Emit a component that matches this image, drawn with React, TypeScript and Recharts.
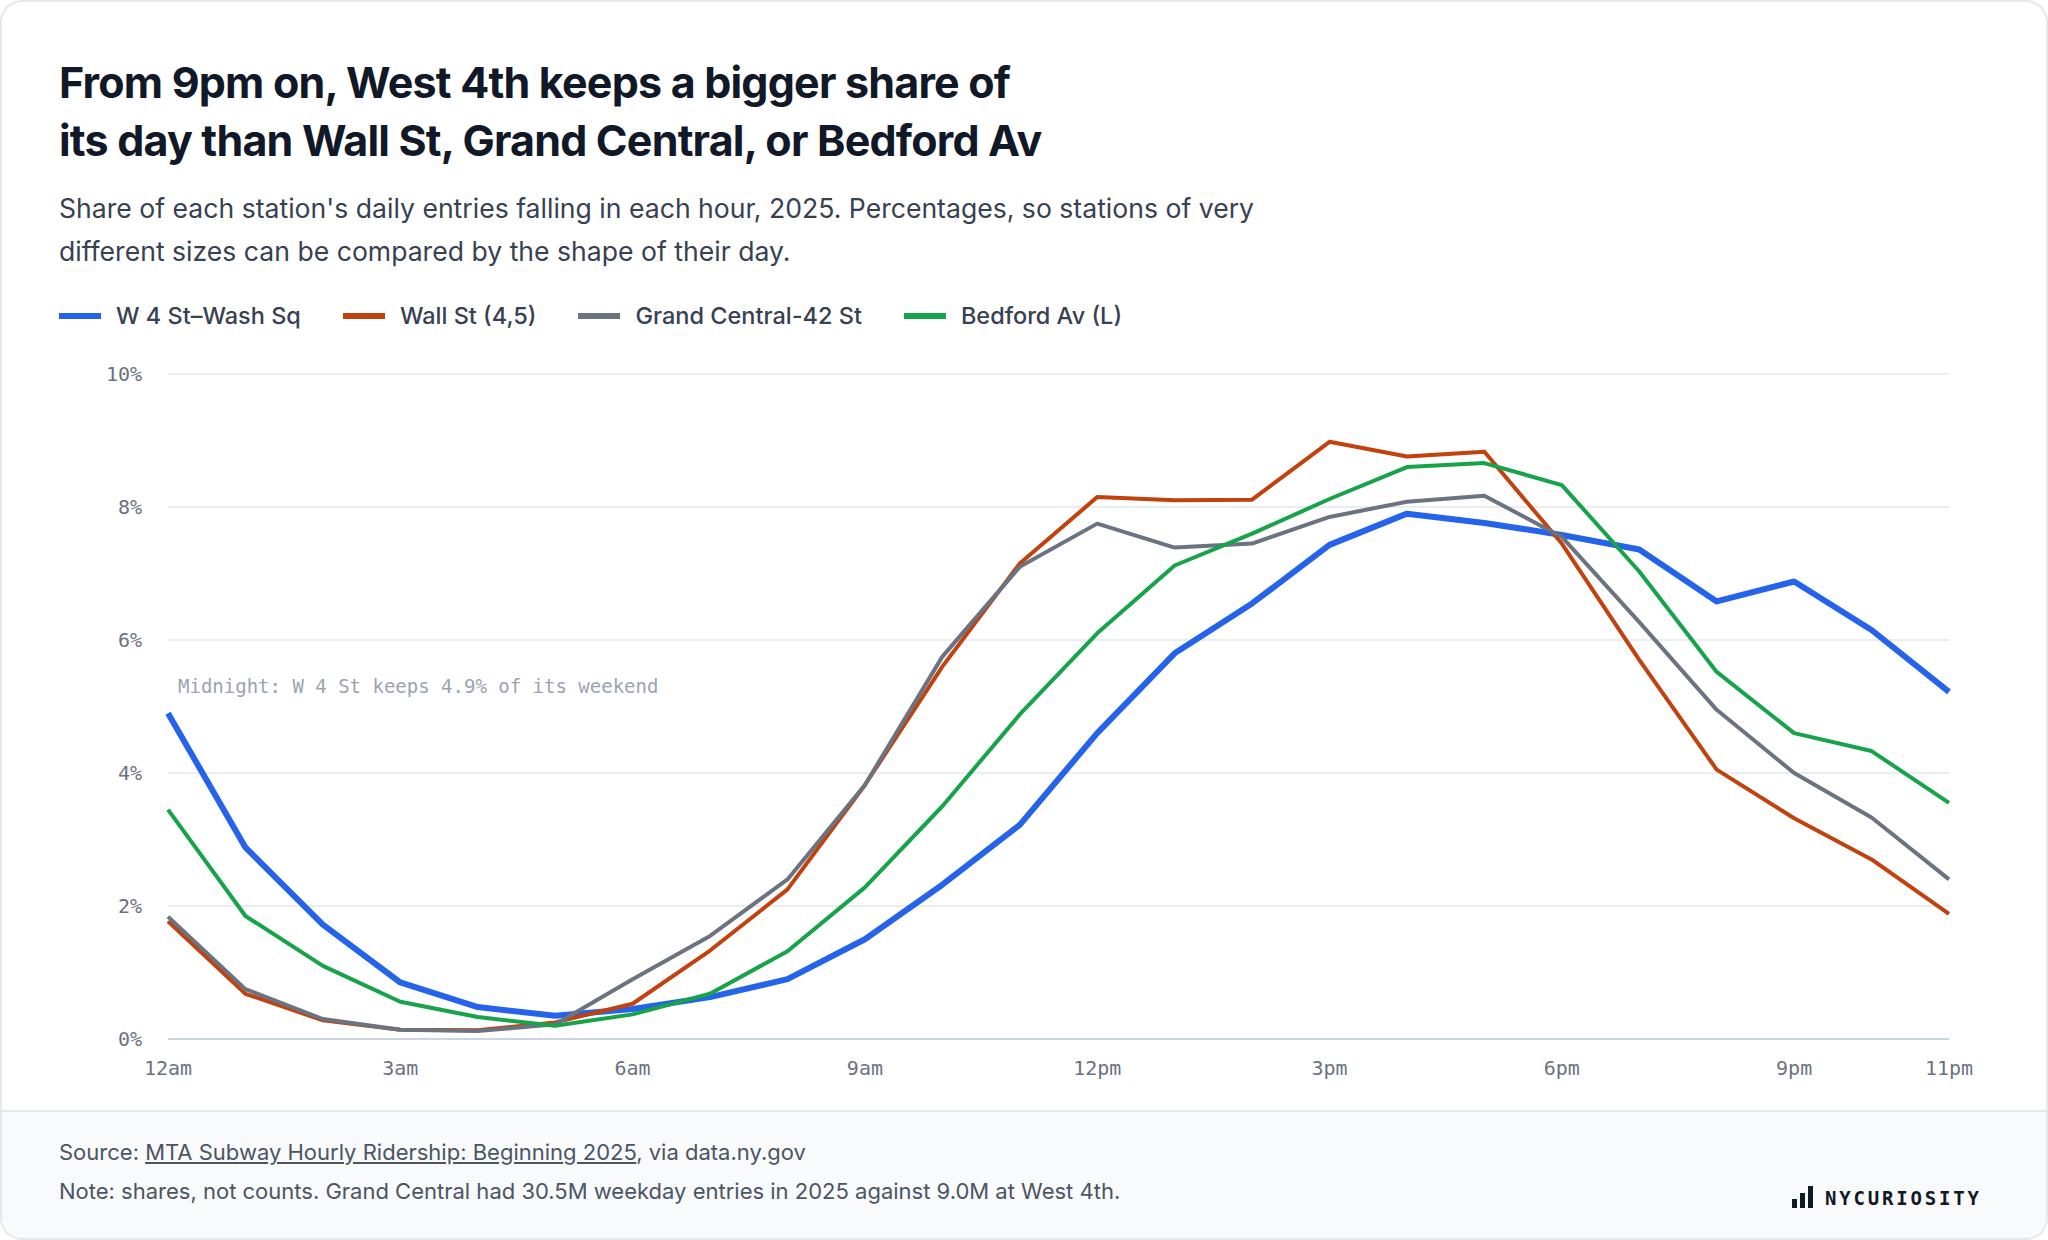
import React from "react";
import { LineChart, Line, XAxis, YAxis, CartesianGrid, ReferenceDot } from "recharts";

const hours = Array.from({ length: 24 }, (_, i) => i);
const w4 = [4.9, 2.88, 1.72, 0.85, 0.48, 0.35, 0.45, 0.63, 0.9, 1.5, 2.32, 3.22, 4.6, 5.8, 6.55, 7.43, 7.9, 7.76, 7.58, 7.36, 6.58, 6.88, 6.15, 5.22];
const wall = [1.77, 0.68, 0.28, 0.14, 0.13, 0.25, 0.53, 1.33, 2.25, 3.82, 5.6, 7.15, 8.15, 8.1, 8.11, 8.98, 8.76, 8.83, 7.45, 5.7, 4.05, 3.32, 2.7, 1.88];
const gc = [1.84, 0.75, 0.3, 0.14, 0.12, 0.22, 0.9, 1.55, 2.4, 3.82, 5.75, 7.1, 7.75, 7.39, 7.45, 7.85, 8.08, 8.17, 7.55, 6.27, 4.95, 4.0, 3.33, 2.4];
const bedford = [3.45, 1.85, 1.1, 0.56, 0.33, 0.2, 0.37, 0.68, 1.32, 2.28, 3.5, 4.88, 6.1, 7.12, 7.6, 8.12, 8.6, 8.66, 8.33, 7.03, 5.52, 4.6, 4.33, 3.55];
const xTicks = [0, 3, 6, 9, 12, 15, 18, 21, 23];
const xLabels: Record<number, string> = { 0: "12am", 3: "3am", 6: "6am", 9: "9am", 12: "12pm", 15: "3pm", 18: "6pm", 21: "9pm", 23: "11pm" };
const yTicks = [0, 2, 4, 6, 8, 10];

const series = [
  { key: "w4", name: "W 4 St\u2013Wash Sq", color: "#2563eb", width: 6 },
  { key: "wall", name: "Wall St (4,5)", color: "#c2410c", width: 4 },
  { key: "gc", name: "Grand Central-42 St", color: "#6b7280", width: 4 },
  { key: "bedford", name: "Bedford Av (L)", color: "#16a34a", width: 4 },
];

const data = hours.map((h, i) => ({ h, w4: w4[i], wall: wall[i], gc: gc[i], bedford: bedford[i] }));
const sans = "Inter, 'Noto Sans', sans-serif";
const mono = "'DejaVu Sans Mono', 'Liberation Mono', monospace";

export default function App() {
  return (
    <div style={{ position: "absolute", left: 0, top: 0, width: 2048, height: 1240, background: "#fff", border: "2px solid #e5e7eb", borderRadius: 22, boxSizing: "border-box", overflow: "hidden", fontFamily: sans }}>
      <div style={{ position: "absolute", left: 57, top: 51, fontSize: 43, fontWeight: 700, color: "#111827", lineHeight: "58px", letterSpacing: -0.8 }}>
        From 9pm on, West 4th keeps a bigger share of<br />its day than Wall St, Grand Central, or Bedford Av
      </div>
      <div style={{ position: "absolute", left: 57, top: 185, fontSize: 26.6, color: "#374151", lineHeight: "43px", width: 1400 }}>
        Share of each station's daily entries falling in each hour, 2025. Percentages, so stations of very<br />different sizes can be compared by the shape of their day.
      </div>
      <div style={{ position: "absolute", left: 57, top: 299, display: "flex", fontSize: 23.5, color: "#374151", fontWeight: 500 }}>
        {series.map((s) => (
          <div key={s.key} style={{ display: "flex", alignItems: "center", marginRight: 42 }}>
            <div style={{ width: 42, height: 6, background: s.color, marginRight: 15 }} />
            <span>{s.name}</span>
          </div>
        ))}
      </div>
      <div style={{ position: "absolute", left: 0, top: 0 }}>
        <LineChart width={2044} height={1108} data={data} margin={{ top: 372, right: 97, bottom: 41, left: 0 }}>
          <CartesianGrid vertical={false} stroke="#e5e7eb" strokeWidth={1.5} />
          <XAxis dataKey="h" type="number" domain={[0, 23]} ticks={xTicks} tickFormatter={(v) => xLabels[v]} axisLine={{ stroke: "#cbd5e1", strokeWidth: 2 }} tickLine={false} tickMargin={16} tick={{ fill: "#6b7280", fontSize: 20, fontFamily: mono }} />
          <YAxis domain={[0, 10]} ticks={yTicks} width={166} tickFormatter={(v) => `${v}%`} axisLine={false} tickLine={false} tickMargin={20} tick={{ fill: "#6b7280", fontSize: 20, fontFamily: mono }} />
          {series.map((s) => (
            <Line key={s.key} dataKey={s.key} stroke={s.color} strokeWidth={s.width} dot={false} isAnimationActive={false} strokeLinejoin="round" />
          ))}
          <ReferenceDot x={0} y={5.3} r={0} stroke="none" label={{ value: "Midnight: W 4 St keeps 4.9% of its weekend", position: "right", offset: 10, fill: "#9ca3af", fontSize: 19, fontFamily: mono }} />
        </LineChart>
      </div>
      <div style={{ position: "absolute", left: 0, top: 1108, width: "100%", height: 132, background: "#f8fafc", borderTop: "2px solid #e5e7eb", fontSize: 22, color: "#4b5563" }}>
        <div style={{ position: "absolute", left: 57, top: 27 }}>
          Source: <span style={{ textDecoration: "underline" }}>MTA Subway Hourly Ridership: Beginning 2025</span>, via data.ny.gov
        </div>
        <div style={{ position: "absolute", left: 57, top: 66 }}>
          Note: shares, not counts. Grand Central had 30.5M weekday entries in 2025 against 9.0M at West 4th.
        </div>
        <div style={{ position: "absolute", left: 1790, top: 74, display: "flex", alignItems: "flex-end", color: "#111827" }}>
          <div style={{ display: "flex", alignItems: "flex-end", height: 22, marginRight: 12 }}>
            <div style={{ width: 5, height: 9, background: "#111827", marginRight: 3 }} />
            <div style={{ width: 5, height: 15, background: "#111827", marginRight: 3 }} />
            <div style={{ width: 5, height: 22, background: "#111827" }} />
          </div>
          <span style={{ fontFamily: mono, fontWeight: 700, fontSize: 19, letterSpacing: 2.8, lineHeight: "20px" }}>NYCURIOSITY</span>
        </div>
      </div>
    </div>
  );
}
